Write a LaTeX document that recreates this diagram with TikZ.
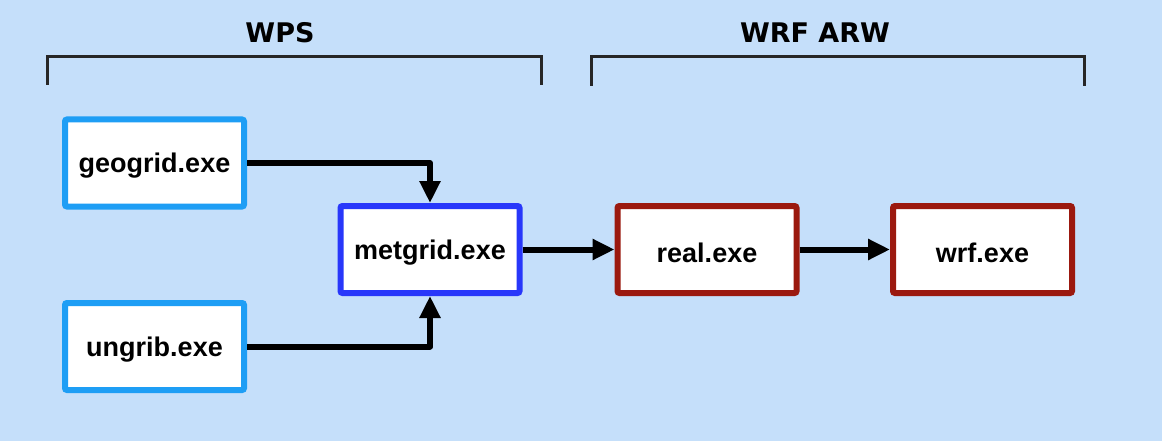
\documentclass[tikz,border=0pt]{standalone}
\usepackage{fontspec}
\setmainfont{Liberation Sans}
\newfontfamily\labelfont{DejaVu Sans}
\usetikzlibrary{arrows.meta}
\definecolor{bg}{RGB}{197,223,250}
\definecolor{wpsblue}{RGB}{30,158,245}
\definecolor{metblue}{RGB}{40,55,250}
\definecolor{wrfred}{RGB}{155,25,15}
\newcommand{\lowtext}[1]{\raisebox{-3pt}[\height][\depth]{#1}}
\tikzset{
  prog/.style={draw, line width=6pt, fill=white, rounded corners=2pt,
    minimum width=179pt, minimum height=87pt, inner sep=0pt,
    font=\fontsize{27}{30}\selectfont\bfseries},
  flow/.style={line width=6pt, line join=round, -{Triangle[length=22pt,width=20pt]}},
  bracketline/.style={line width=3pt, draw=black!85},
  grouplabel/.style={font=\labelfont\fontsize{27}{30}\selectfont\bfseries}
}
\begin{document}
\begin{tikzpicture}[x=1pt,y=-1pt]
\fill[bg] (0,0) rectangle (1162,441);
\useasboundingbox (0,0) rectangle (1162,441);
% group labels and brackets
\node[grouplabel] (wps) at (280,33) {WPS};
\node[grouplabel] (wrfarw) at (815,33) {WRF ARW};
\coordinate (wa) at (47,85);
\coordinate (wb) at (541,85);
\coordinate (ra) at (591,86);
\coordinate (rb) at (1084,86);
\draw[bracketline] (wa) -- ++(0,-28) -| (wb);
\draw[bracketline] (ra) -- ++(0,-29) -| (rb);
% boxes
\node[prog, draw=wpsblue] (geogrid) at (154.5,163) {\lowtext{geogrid.exe}};
\node[prog, draw=wpsblue] (ungrib) at (154.5,346.5) {\lowtext{ungrib.exe}};
\node[prog, draw=metblue] (metgrid) at (430,249.5) {\lowtext{metgrid.exe}};
\node[prog, draw=wrfred] (real) at (707,249.5) {\lowtext{real.exe}};
\node[prog, draw=wrfred] (wrf) at (982.5,249.5) {\lowtext{wrf.exe}};
% connectors
\draw[flow] (geogrid.east) -| (metgrid.north);
\draw[flow] (ungrib.east) -| (metgrid.south);
\draw[flow] (metgrid) -- (real);
\draw[flow] (real) -- (wrf);
\end{tikzpicture}
\end{document}
